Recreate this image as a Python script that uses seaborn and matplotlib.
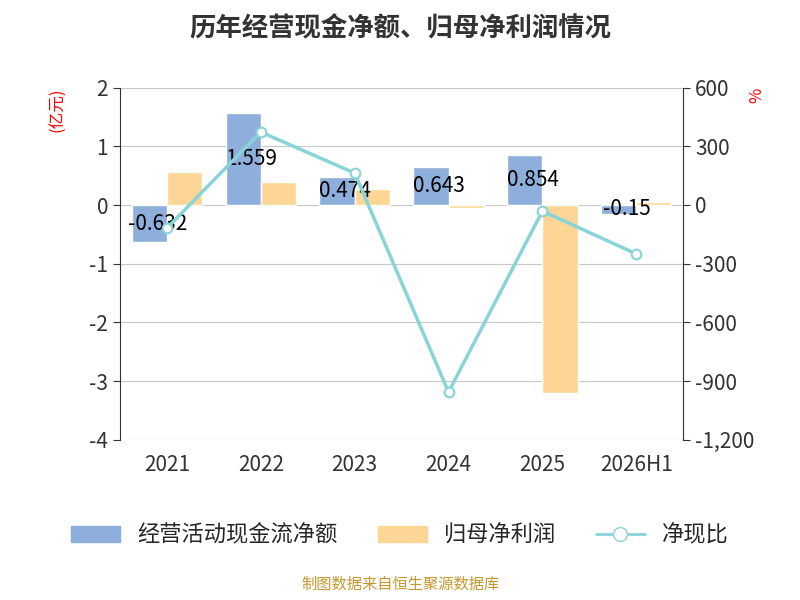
import numpy as np
import pandas as pd
import seaborn as sns
import matplotlib.pyplot as plt
from matplotlib.lines import Line2D
from matplotlib.patches import Patch

years = ['2021', '2022', '2023', '2024', '2025', '2026H1']
cash_flow = [-0.632, 1.559, 0.474, 0.643, 0.854, -0.15]
net_profit = [0.56, 0.40, 0.28, -0.05, -3.2, 0.05]
ratio = [-118, 373, 163, -956, -31, -250]

sns.set_style('white')
plt.rcParams['font.family'] = ['Noto Sans CJK SC', 'DejaVu Sans']
plt.rcParams['axes.unicode_minus'] = False

df = pd.DataFrame({'year': years * 2,
                   'value': cash_flow + net_profit,
                   'kind': ['经营活动现金流净额'] * 6 + ['归母净利润'] * 6})

fig = plt.figure(figsize=(8, 6), dpi=100)
ax = fig.add_axes([0.15, 0.267, 0.704, 0.587])
sns.barplot(data=df, x='year', y='value', hue='kind', ax=ax,
            palette=['#8eafdc', '#fdd594'], width=0.75, saturation=1, legend=False)
ax.set_ylim(-4, 2)
ax.set_yticks(range(-4, 3))
ax.yaxis.grid(True, color='#c8c8c8')
ax.set_axisbelow(True)
for s in ['top', 'right']:
    ax.spines[s].set_visible(False)
ax.spines['left'].set_color('#333')
ax.spines['bottom'].set_visible(False)
ax.set_xlabel('')
ax.set_ylabel('')
ax.tick_params(labelsize=15, colors='#333', length=5)
ax.tick_params(axis='x', length=0, pad=10)
for i, v in enumerate(cash_flow):
    ax.text(i - 0.1, v / 2 if v > 0 else v / 2 - 0.0, f'{v:g}', ha='center',
            va='center', fontsize=15, color='black')
ax.text(-0.11, 1.0, '(亿元)', rotation=90, color='red', fontsize=12,
        transform=ax.transAxes, ha='center', va='top')

ax2 = ax.twinx()
ax2.plot(range(6), ratio, color='#88d4d8', lw=2.5, marker='o', ms=7,
         mfc='white', mec='#88d4d8', mew=1.5)
ax2.set_ylim(-1200, 600)
ax2.set_yticks(range(-1200, 601, 300))
ax2.set_yticklabels([f'{t:,}' for t in range(-1200, 601, 300)])
for s in ['top', 'left', 'bottom']:
    ax2.spines[s].set_visible(False)
ax2.spines['right'].set_color('#333')
ax2.tick_params(labelsize=15, colors='#333', length=5)
ax2.text(1.13, 1.0, '%', color='red', fontsize=12,
         transform=ax2.transAxes, ha='center', va='top', rotation=90)
ax.set_xlim(-0.5, 5.5)

fig.suptitle('历年经营现金净额、归母净利润情况', fontsize=19, fontweight='bold',
             color='#333', y=0.975)
handles = [Patch(color='#8eafdc'), Patch(color='#fdd594'),
           Line2D([], [], color='#88d4d8', lw=2, marker='o', ms=10, mfc='white')]
fig.legend(handles, ['经营活动现金流净额', '归母净利润', '净现比'], loc='center',
           bbox_to_anchor=(0.5, 0.108), ncol=3, frameon=False, fontsize=16,
           handlelength=2.2, columnspacing=1.8)
fig.text(0.5, 0.018, '制图数据来自恒生聚源数据库', ha='center', color='#c8962e', fontsize=11)
fig.savefig('out.png')
